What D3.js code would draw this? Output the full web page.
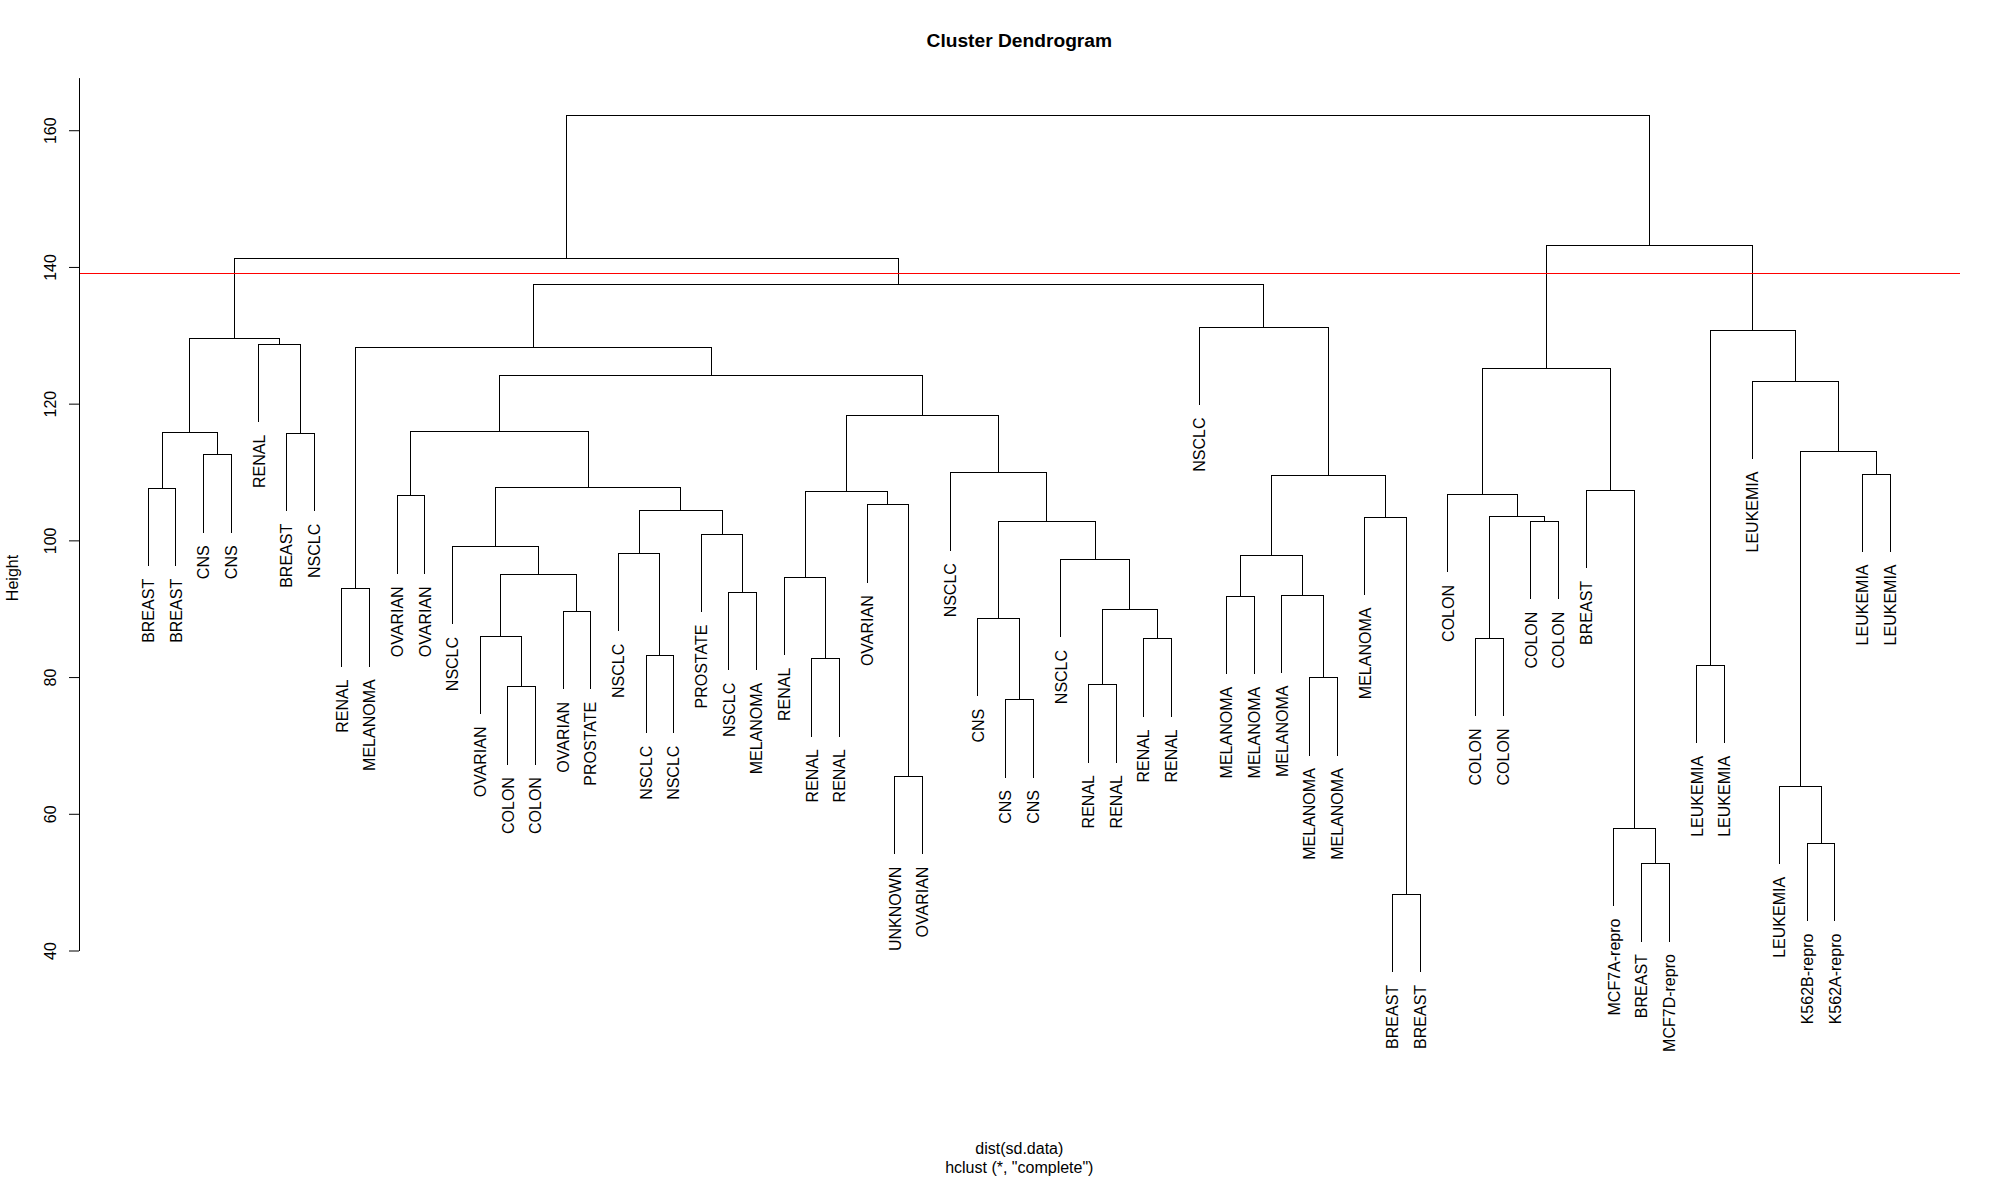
<!DOCTYPE html>
<html>
<head>
<meta charset="utf-8">
<script src="https://cdn.jsdelivr.net/npm/d3@7"></script>
<style>
  body { margin: 0; background: #fff; }
  svg { display: block; }
  text { font-family: "Liberation Sans", Arial, sans-serif; fill: #000; }
</style>
</head>
<body>
<svg id="chart" width="2000" height="1179"></svg>
<script>
// Leaf labels in display order (left to right)
const leafLabels = [
  "BREAST","BREAST","CNS","CNS","RENAL","BREAST","NSCLC","RENAL","MELANOMA","OVARIAN",
  "OVARIAN","NSCLC","OVARIAN","COLON","COLON","OVARIAN","PROSTATE","NSCLC","NSCLC","NSCLC",
  "PROSTATE","NSCLC","MELANOMA","RENAL","RENAL","RENAL","OVARIAN","UNKNOWN","OVARIAN","NSCLC",
  "CNS","CNS","CNS","NSCLC","RENAL","RENAL","RENAL","RENAL","NSCLC","MELANOMA",
  "MELANOMA","MELANOMA","MELANOMA","MELANOMA","MELANOMA","BREAST","BREAST","COLON","COLON","COLON",
  "COLON","COLON","BREAST","MCF7A-repro","BREAST","MCF7D-repro","LEUKEMIA","LEUKEMIA","LEUKEMIA","LEUKEMIA",
  "K562B-repro","K562A-repro","LEUKEMIA","LEUKEMIA"
];

// hclust-style merge table: negative = leaf (1-based position), positive = earlier merge step
const mergeLeft = [
  -46,-55,-61,-54,-60,-28,-32,-14,-35,-43,
  -57,-25,-19,-37,-49,-13,-31,-16,  9,-40,
  -42,-22, -8,-24, 16,-34, 20,-18,-12,-21,
   17,-51,-45, 15, 28,-27,-10,-48, 24,-53,
   -1, 29, 27,-63,-30, -3,  5, -6, 41, 37,
   39,-59, 50, 38, 23, -5, 49, 11,-39, 55,
   57, 54, 61
];
const mergeRight = [
  -47,-56,-62,  2,  3,-29,-33,-15,-36,-44,
  -58,-26,-20,-38,-50,  8,  7,-17, 14,-41,
   10,-23, -9, 12, 18, 19, 21, 13, 25, 22,
   26,-52,  1, 32, 30,  6,-11, 34, 36,  4,
   -2, 35, 33,-64, 31, -4, 44, -7, 46, 42,
   45, 47, 51, 40, 53, 48, 56, 52, 43, 59,
   60, 58, 62
];
const mergeHeights = [
   48.2, 52.7, 55.7, 57.9, 64.0, 65.5, 76.7, 78.6, 78.9, 79.9,
   81.7, 82.7, 83.2, 85.6, 85.7, 86.0, 88.6, 89.6, 89.9, 91.8,
   92.0, 92.4, 92.9, 94.6, 95.0, 97.2, 97.8, 98.1, 99.1,100.9,
  102.8,102.8,103.4,103.5,104.3,105.2,106.5,106.7,107.1,107.3,
  107.6,107.7,109.5,109.7,109.9,112.5,113.0,115.65,115.8,115.9,
  118.3,123.3,124.1,125.2,128.2,128.7,129.6,130.7,131.2,137.5,
  141.2,143.1,162.2
];

const yTicks = [40, 60, 80, 100, 120, 140, 160];
const cutHeight = 139;
const titleText = "Cluster Dendrogram";
const yLabelText = "Height";
const xLabelText = "dist(sd.data)";
const subText = 'hclust (*, "complete")';

// ---- build hierarchy ----
const steps = [];
function childOf(v) {
  return v < 0 ? { name: leafLabels[-v - 1], leafIndex: -v } : steps[v - 1];
}
for (let i = 0; i < mergeHeights.length; i++) {
  steps.push({ height: mergeHeights[i], children: [childOf(mergeLeft[i]), childOf(mergeRight[i])] });
}
const root = d3.hierarchy(steps[steps.length - 1]);

const hang = 0.1 * (d3.max(mergeHeights) - d3.min(mergeHeights));

// ---- scales ----
const x = d3.scaleLinear().domain([1, leafLabels.length]).range([148.3, 1890.3]);
const y = d3.scaleLinear().domain([40, 167.7]).range([950.5, 77.6]);
const plotLeft = x(1 - 0.04 * (leafLabels.length - 1));
const plotRight = x(leafLabels.length + 0.04 * (leafLabels.length - 1));

root.eachAfter(n => {
  if (!n.children) n.px = x(n.data.leafIndex);
  else n.px = d3.mean(n.children, c => c.px);
});
function topY(n) {
  if (n.children) return y(n.data.height);
  return y(n.parent.data.height - hang);
}

const svg = d3.select("#chart");

// ---- branches ----
const g = svg.append("g").attr("shape-rendering", "crispEdges");
g.selectAll("path.branch")
  .data(root.descendants().filter(n => n.children))
  .join("path")
  .attr("class", "branch")
  .attr("fill", "none")
  .attr("stroke", "#000")
  .attr("stroke-width", 1)
  .attr("d", n => {
    const [a, b] = n.children;
    return `M${a.px},${topY(a)}V${y(n.data.height)}H${b.px}V${topY(b)}`;
  });

// ---- leaf labels ----
svg.append("g").selectAll("text")
  .data(root.leaves())
  .join("text")
  .attr("transform", n => `translate(${n.px},${topY(n) + 12.5}) rotate(-90)`)
  .attr("text-anchor", "end")
  .attr("dy", "0.36em")
  .style("font-size", "16px")
  .text(n => n.data.name);

// ---- cut line ----
svg.append("line")
  .attr("x1", plotLeft).attr("x2", plotRight)
  .attr("y1", y(cutHeight)).attr("y2", y(cutHeight))
  .attr("stroke", "#ff0000").attr("stroke-width", 1)
  .attr("shape-rendering", "crispEdges");

// ---- y axis ----
const axis = svg.append("g")
  .attr("transform", `translate(${Math.round(plotLeft)},0)`)
  .call(d3.axisLeft(y).tickValues(yTicks).tickSize(10).tickSizeOuter(0).tickFormat(d3.format("d")));
axis.select(".domain").attr("stroke", "#000");
axis.selectAll(".tick line").attr("stroke", "#000");
axis.selectAll(".tick text")
  .attr("x", 0).attr("y", 0).attr("dy", 0)
  .attr("transform", "translate(-23,0) rotate(-90)")
  .attr("text-anchor", "middle")
  .style("font-size", "16px")
  .style("font-family", '"Liberation Sans", Arial, sans-serif')
  .attr("fill", "#000");

// ---- titles ----
svg.append("text")
  .attr("x", (plotLeft + plotRight) / 2).attr("y", 46.5)
  .attr("text-anchor", "middle")
  .style("font-size", "19.2px").style("font-weight", "bold")
  .text(titleText);

svg.append("text")
  .attr("transform", "translate(18,578) rotate(-90)")
  .attr("text-anchor", "middle")
  .style("font-size", "16px")
  .text(yLabelText);

svg.append("text")
  .attr("x", (plotLeft + plotRight) / 2).attr("y", 1154)
  .attr("text-anchor", "middle")
  .style("font-size", "16px")
  .text(xLabelText);

svg.append("text")
  .attr("x", (plotLeft + plotRight) / 2).attr("y", 1173)
  .attr("text-anchor", "middle")
  .style("font-size", "16px")
  .text(subText);
</script>
</body>
</html>
